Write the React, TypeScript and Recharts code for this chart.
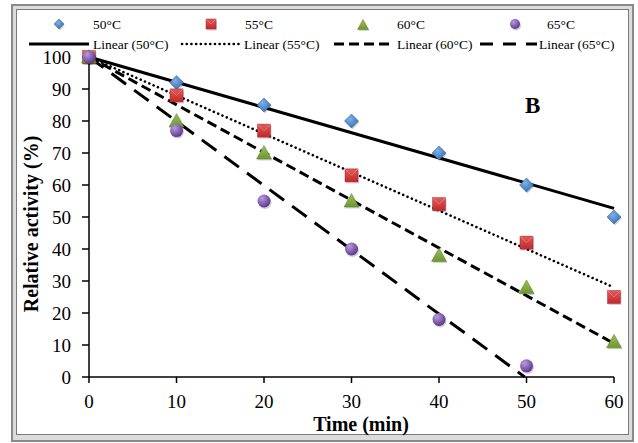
import { ScatterChart, Scatter, XAxis, YAxis } from "recharts";

const times = [0, 10, 20, 30, 40, 50, 60];
const act50 = [100, 92, 85, 80, 70, 60, 50];
const act55 = [100, 88, 77, 63, 54, 42, 25];
const act60 = [100, 80, 70, 55, 38, 28, 11];
const act65 = [100, 77, 55, 40, 18, 3.5];

// trend line end points
const trend50 = [[0, 100], [60, 52.7]];
const trend55 = [[0, 100], [60, 28]];
const trend60 = [[0, 100], [60, 10.5]];
const trend65 = [[0, 100], [49.8, 0]];

const xTicks = [0, 10, 20, 30, 40, 50, 60];
const yTicks = [0, 10, 20, 30, 40, 50, 60, 70, 80, 90, 100];

const seriesLabels = ["50°C", "55°C", "60°C", "65°C"];
const trendLabels = ["Linear (50°C)", "Linear (55°C)", "Linear (60°C)", "Linear (65°C)"];

const toPoints = (vals: number[]) => vals.map((v, i) => ({ x: times[i], y: v }));
const toLine = (pts: number[][]) => pts.map(([x, y]) => ({ x, y }));

const FONT = "Liberation Serif, Times New Roman, serif";

const Diamond = ({ cx, cy, s = 7 }: any) => (
  <g>
    <path d={`M${cx + 1},${cy - s + 1.5} L${cx + s + 1},${cy + 1.5} L${cx + 1},${cy + s + 1.5} L${cx - s + 1},${cy + 1.5}Z`} fill="rgba(0,0,0,0.18)" />
    <path d={`M${cx},${cy - s} L${cx + s},${cy} L${cx},${cy + s} L${cx - s},${cy}Z`} fill="url(#gBlue)" stroke="#2d5f9a" strokeWidth={0.5} />
  </g>
);

const Square = ({ cx, cy, s = 6.5 }: any) => (
  <g>
    <rect x={cx - s + 1} y={cy - s + 1.5} width={2 * s} height={2 * s} fill="rgba(0,0,0,0.18)" />
    <rect x={cx - s} y={cy - s} width={2 * s} height={2 * s} fill="url(#gRed)" stroke="#a52a2d" strokeWidth={0.5} />
    <path d={`M${cx - s},${cy - s} L${cx},${cy} L${cx + s},${cy - s}`} fill="none" stroke="rgba(255,255,255,0.25)" strokeWidth={1} />
  </g>
);

const Triangle = ({ cx, cy, s = 7.5 }: any) => (
  <g>
    <path d={`M${cx + 1},${cy - s + 1.5} L${cx + s + 1},${cy + s * 0.8 + 1.5} L${cx - s + 1},${cy + s * 0.8 + 1.5}Z`} fill="rgba(0,0,0,0.18)" />
    <path d={`M${cx},${cy - s} L${cx + s},${cy + s * 0.8} L${cx - s},${cy + s * 0.8}Z`} fill="url(#gGreen)" stroke="#5f7f2a" strokeWidth={0.5} />
  </g>
);

const Ball = ({ cx, cy, r = 6.5 }: any) => (
  <g>
    <circle cx={cx + 1} cy={cy + 1.5} r={r} fill="rgba(0,0,0,0.2)" />
    <circle cx={cx} cy={cy} r={r} fill="url(#gPurple)" />
  </g>
);

const NoDot = () => null;

const lineStyles = [
  { stroke: "#000", strokeWidth: 3 },
  { stroke: "#000", strokeWidth: 2.6, strokeDasharray: "0.1 4.6", strokeLinecap: "round" },
  { stroke: "#000", strokeWidth: 3, strokeDasharray: "10 5" },
  { stroke: "#000", strokeWidth: 3, strokeDasharray: "18 10" },
];

const legendLineStyles = [
  lineStyles[0],
  lineStyles[1],
  lineStyles[2],
  { stroke: "#000", strokeWidth: 3, strokeDasharray: "13 10" },
];

const Gradients = () => (
  <>
    <radialGradient id="gBlue" cx="40%" cy="35%" r="70%">
      <stop offset="0%" stopColor="#7fb0e6" />
      <stop offset="100%" stopColor="#2f6db4" />
    </radialGradient>
    <linearGradient id="gRed" x1="0" y1="0" x2="0" y2="1">
      <stop offset="0%" stopColor="#e25a5a" />
      <stop offset="100%" stopColor="#c0282c" />
    </linearGradient>
    <linearGradient id="gGreen" x1="0" y1="0" x2="0" y2="1">
      <stop offset="0%" stopColor="#9cc25a" />
      <stop offset="100%" stopColor="#6f9630" />
    </linearGradient>
    <radialGradient id="gPurple" cx="35%" cy="30%" r="70%">
      <stop offset="0%" stopColor="#b89be0" />
      <stop offset="100%" stopColor="#5e3a8f" />
    </radialGradient>
  </>
);

const Legend = () => {
  const markX = [59, 211, 363, 515];
  const textX = [93, 245, 397, 547];
  const lineX = [[29, 89], [182, 241], [334, 392], [480, 537]];
  const lineTextX = [93, 244, 397, 539];
  const shapes = [
    <Diamond key="d" cx={markX[0]} cy={24} s={5} />,
    <Square key="s" cx={markX[1]} cy={24} s={5} />,
    <Triangle key="t" cx={markX[2]} cy={25} s={5.5} />,
    <Ball key="b" cx={markX[3]} cy={24} r={5} />,
  ];
  return (
    <g>
      {shapes}
      {seriesLabels.map((l, i) => (
        <text key={l} x={textX[i]} y={28.5} fontFamily={FONT} fontSize={13.5} fill="#000">{l}</text>
      ))}
      {trendLabels.map((l, i) => (
        <g key={l}>
          <line x1={lineX[i][0]} x2={lineX[i][1]} y1={44} y2={44} {...(legendLineStyles[i] as any)} />
          <text x={lineTextX[i]} y={48.5} fontFamily={FONT} fontSize={13.5} fill="#000">{l}</text>
        </g>
      ))}
    </g>
  );
};

export default function App() {
  return (
    <div style={{ position: "absolute", left: 0, top: 0, width: 638, height: 443, background: "#fff" }}>
      <div style={{ position: "absolute", left: 11, top: 4, width: 619, height: 434, border: "2px solid #8a8a8a", background: "#dcdcdc" }} />
      <div style={{ position: "absolute", left: 16, top: 9, width: 611, height: 424, border: "1px solid #7a7a7a", background: "#fff" }} />
      <div style={{ position: "absolute", left: 0, top: 0 }}>
        <ScatterChart width={638} height={443} margin={{ top: 57, right: 24, bottom: 36, left: 29 }}>
          <defs>
            <Gradients />
          </defs>
          <XAxis
            type="number"
            dataKey="x"
            domain={[0, 60]}
            ticks={xTicks}
            height={30}
            tickSize={6}
            tickMargin={12}
            stroke="#000"
            strokeWidth={1.5}
            tick={{ fill: "#000", fontSize: 19, fontFamily: FONT }}
          />
          <YAxis
            type="number"
            dataKey="y"
            domain={[0, 100]}
            ticks={yTicks}
            width={60}
            tickSize={7}
            tickMargin={11}
            stroke="#000"
            strokeWidth={1.5}
            tick={{ fill: "#000", fontSize: 19, fontFamily: FONT }}
          />
          <Scatter data={toLine(trend50)} shape={NoDot} line={lineStyles[0]} isAnimationActive={false} />
          <Scatter data={toLine(trend55)} shape={NoDot} line={lineStyles[1]} isAnimationActive={false} />
          <Scatter data={toLine(trend60)} shape={NoDot} line={lineStyles[2]} isAnimationActive={false} />
          <Scatter data={toLine(trend65)} shape={NoDot} line={lineStyles[3]} isAnimationActive={false} />
          <Scatter data={toPoints(act50)} shape={<Diamond />} isAnimationActive={false} />
          <Scatter data={toPoints(act55)} shape={<Square />} isAnimationActive={false} />
          <Scatter data={toPoints(act60)} shape={<Triangle />} isAnimationActive={false} />
          <Scatter data={toPoints(act65)} shape={<Ball />} isAnimationActive={false} />
        </ScatterChart>
      </div>
      <svg width={638} height={443} style={{ position: "absolute", left: 0, top: 0, pointerEvents: "none" }}>
        <defs>
          <Gradients />
        </defs>
        <Legend />
        <text x={525} y={113} fontFamily={FONT} fontSize={23} fontWeight="bold">B</text>
        <text x={361} y={431} textAnchor="middle" fontFamily={FONT} fontSize={20} fontWeight="bold">Time (min)</text>
        <text transform="translate(38,224) rotate(-90)" textAnchor="middle" fontFamily={FONT} fontSize={20} fontWeight="bold">Relative activity (%)</text>
      </svg>
    </div>
  );
}
